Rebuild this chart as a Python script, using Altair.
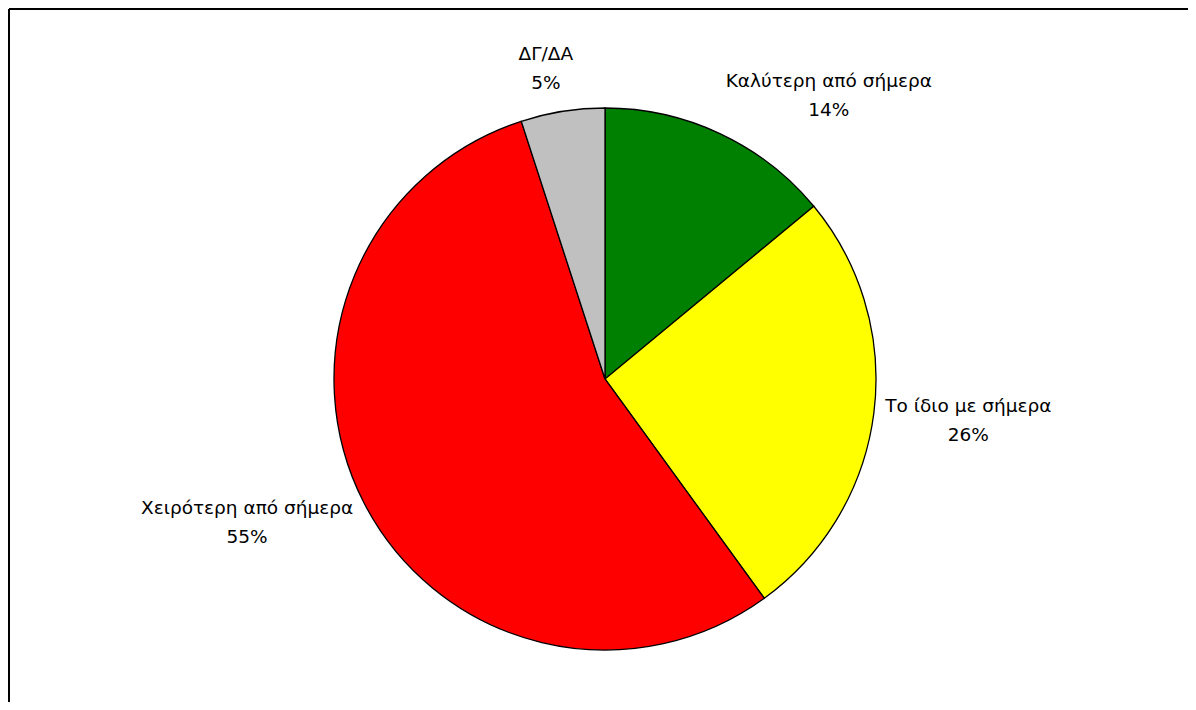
import altair as alt
import pandas as pd

categories = ["Καλύτερη από σήμερα", "Το ίδιο με σήμερα", "Χειρότερη από σήμερα", "ΔΓ/ΔΑ"]
values = [14, 26, 55, 5]
colors = ["#008000", "#FFFF00", "#FF0000", "#C0C0C0"]

df = pd.DataFrame({
    "category": categories,
    "value": values,
    "order": list(range(len(categories))),
})
df["label"] = df["category"] + "\n" + df["value"].astype(str) + "%"

W, H = 1179, 693
CX, CY = 596, 370
R = 271
LR = 340
FONT = "DejaVu Sans"
FS = 18.5

theta = alt.Theta("value:Q", stack=True, scale=alt.Scale(range=[0, 6.283185307179586]))
color = alt.Color("category:N", scale=alt.Scale(domain=categories, range=colors), legend=None)

base = alt.Chart(df)

pie = base.mark_arc(outerRadius=R, stroke="black", strokeWidth=1.3).encode(
    theta=theta,
    order=alt.Order("order:Q"),
    color=color,
    x=alt.value(CX),
    y=alt.value(CY),
)

offsets = {
    "Καλύτερη από σήμερα": (79, 10),
    "Το ίδιο με σήμερα": (26, -16),
    "Χειρότερη από σήμερα": (-55, -25),
    "ΔΓ/ΔΑ": (-6, 11),
}

texts = []
for cat in categories:
    dx, dy = offsets[cat]
    t = base.mark_text(
        radius=LR, font=FONT, fontSize=FS, color="black", lineBreak="\n",
        lineHeight=29, align="center", baseline="middle", dx=dx, dy=dy,
    ).encode(
        theta=theta,
        order=alt.Order("order:Q"),
        text="label:N",
        x=alt.value(CX),
        y=alt.value(CY),
        opacity=alt.condition(alt.datum.category == cat, alt.value(1), alt.value(0)),
    )
    texts.append(t)

frame_df = pd.DataFrame({"a": [0]})
left = alt.Chart(frame_df).mark_rule(color="black", strokeWidth=2).encode(
    x=alt.value(0), y=alt.value(0), y2=alt.value(H)
)
top = alt.Chart(frame_df).mark_rule(color="black", strokeWidth=2).encode(
    x=alt.value(0), x2=alt.value(W), y=alt.value(0)
)

chart = alt.layer(pie, *texts, left, top).properties(
    width=W, height=H,
    padding={"left": 1, "top": 1, "right": 0, "bottom": 0},
    autosize=alt.AutoSizeParams(type="none"),
    background="white",
).configure_view(stroke=None)

chart.save("out.html", embed_options={"renderer": "svg", "actions": False})
